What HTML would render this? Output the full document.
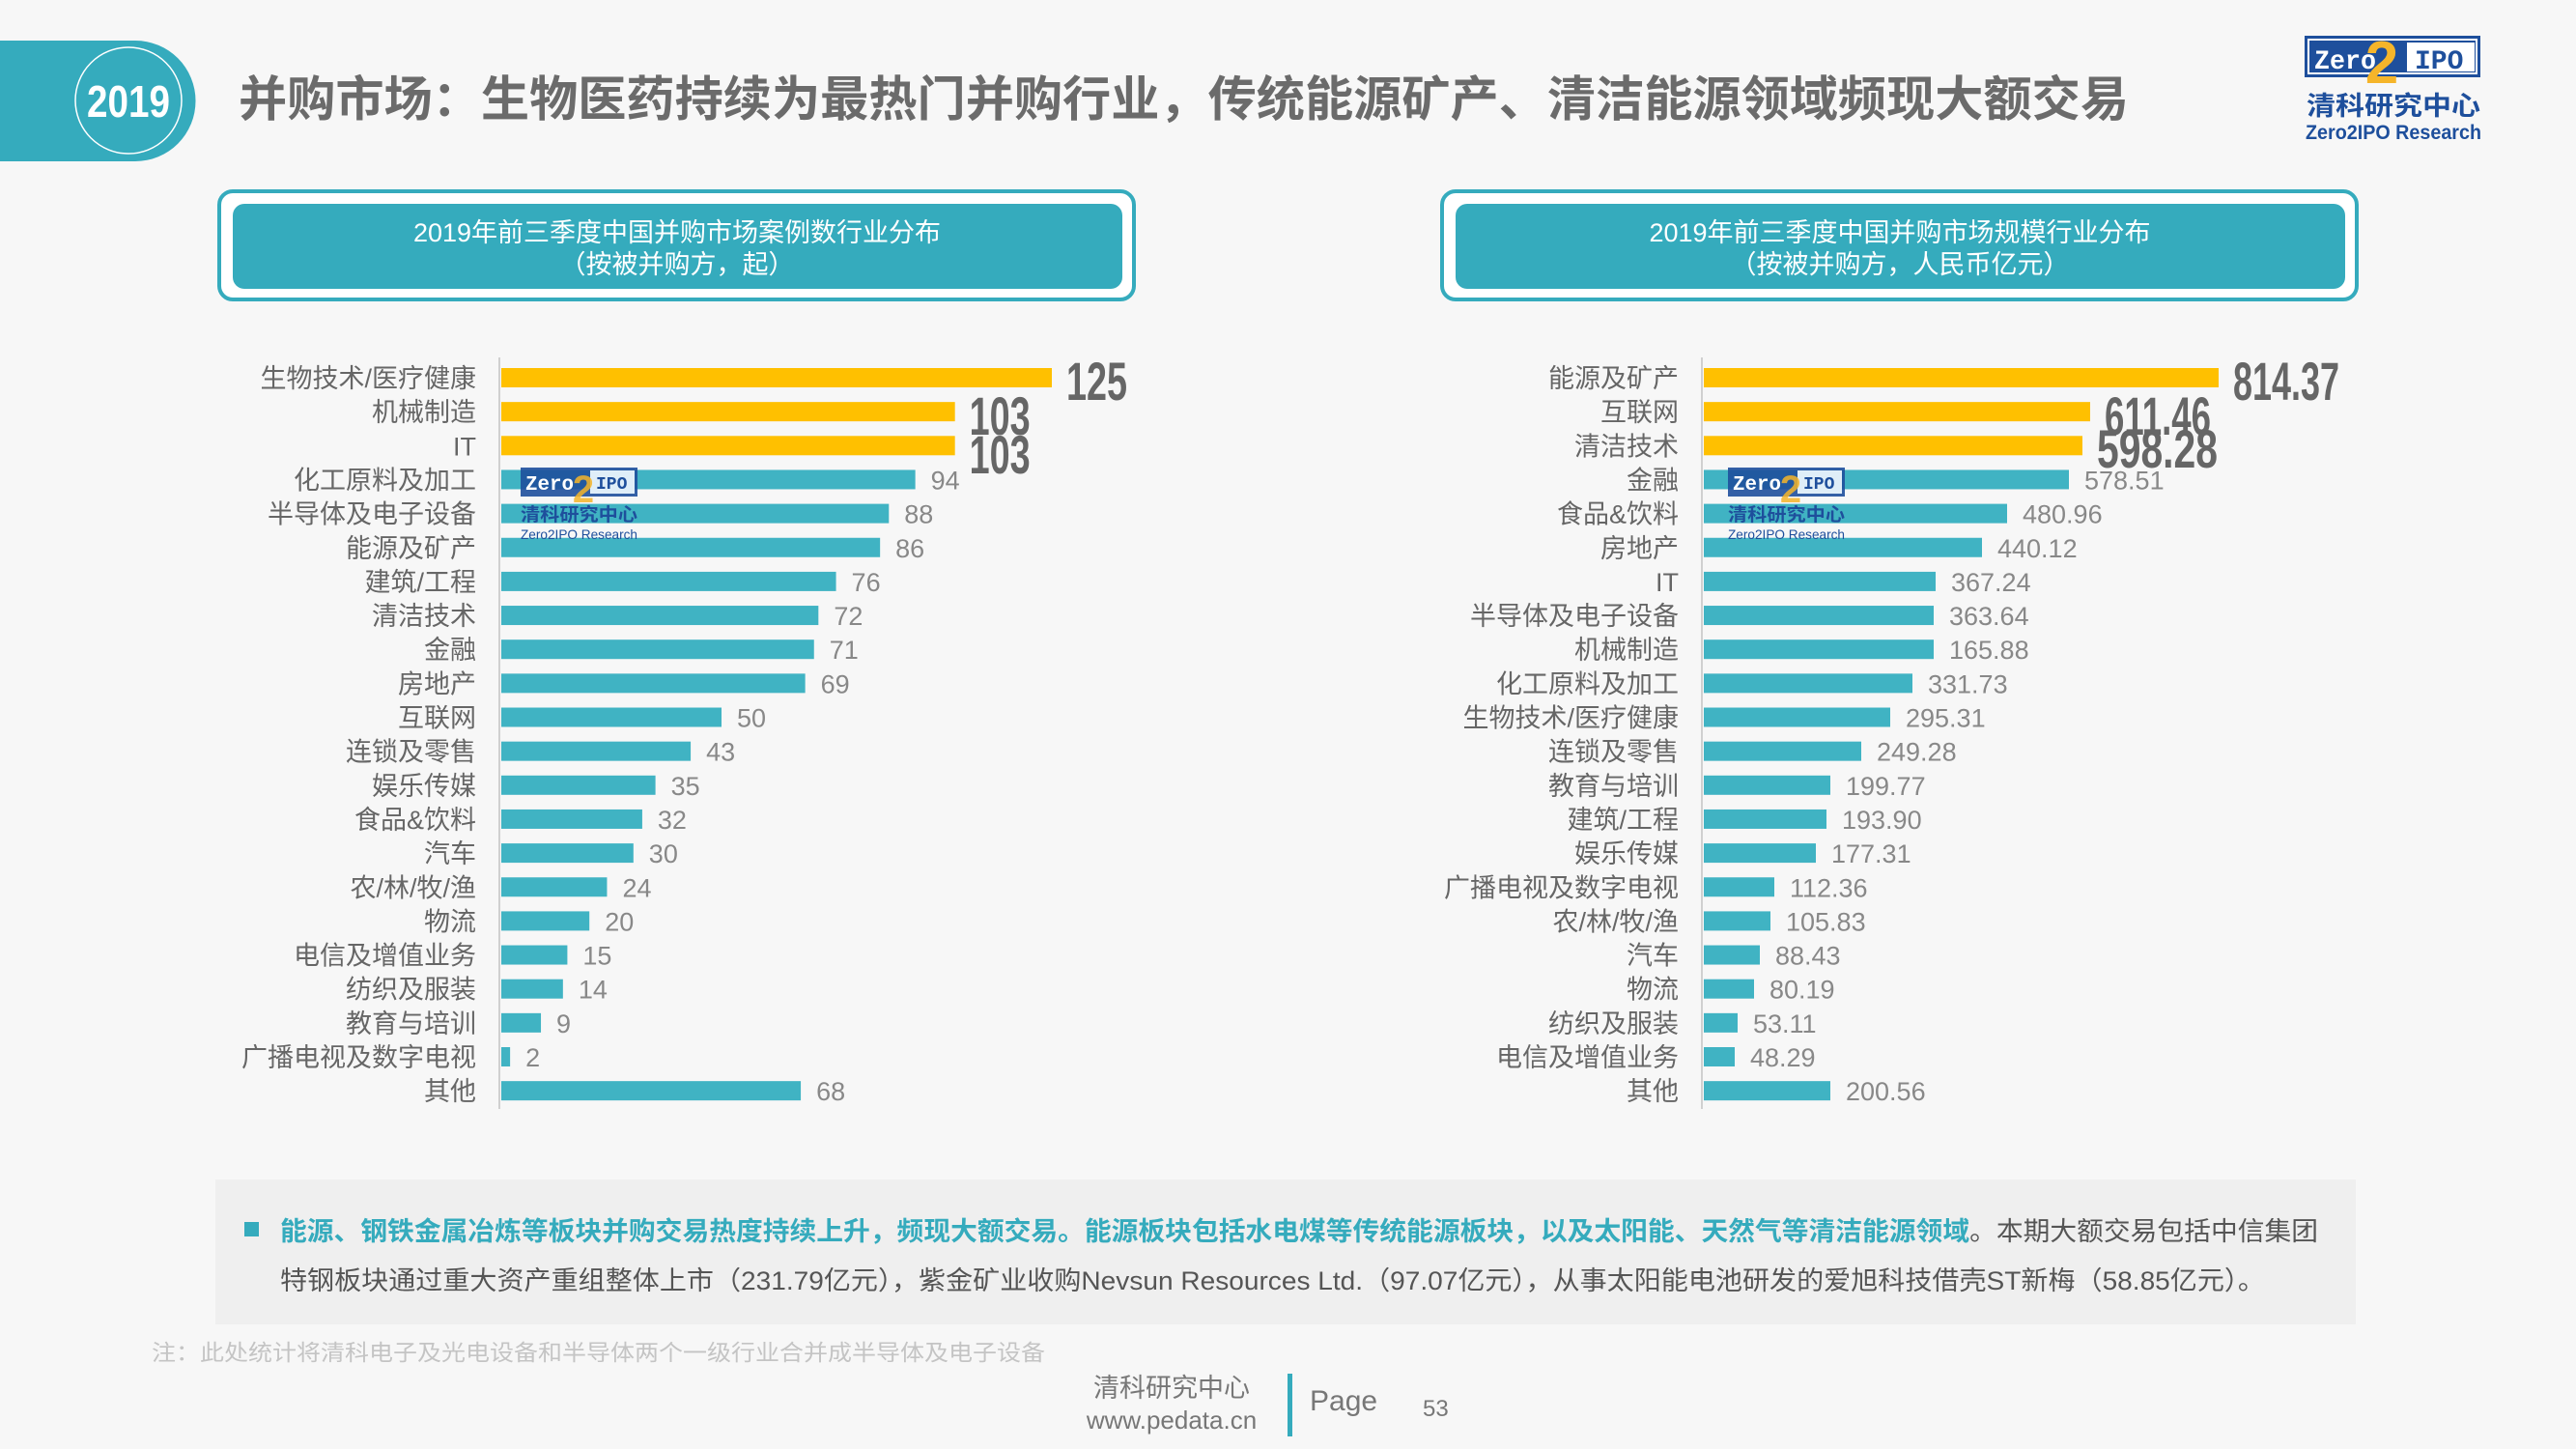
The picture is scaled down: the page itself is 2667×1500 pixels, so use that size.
<!DOCTYPE html>
<html><head><meta charset="utf-8"><style>
html,body{margin:0;padding:0;}
body{width:2667px;height:1500px;background:#f7f7f7;position:relative;overflow:hidden;font-family:"Liberation Sans","Noto Sans CJK SC",sans-serif;}
.abs{position:absolute;}
</style></head><body>
<svg class="abs" style="left:0;top:0" width="2667" height="1500" xmlns="http://www.w3.org/2000/svg" font-family="Liberation Sans, Noto Sans CJK SC, sans-serif">
<path d="M0 42 H140 A62 62 0 0 1 140 167 H0 Z" fill="#35abbd"/>
<circle cx="133" cy="104" r="55" fill="none" stroke="#fff" stroke-width="1.5"/>
<text x="133" y="121" text-anchor="middle" font-size="46" font-weight="bold" fill="#fff" textLength="86" lengthAdjust="spacingAndGlyphs">2019</text>
<text x="247" y="120" font-size="50" font-weight="bold" fill="#6b6b6b" textLength="1957" lengthAdjust="spacingAndGlyphs">并购市场：生物医药持续为最热门并购行业，传统能源矿产、清洁能源领域频现大额交易</text>
<rect x="2386" y="37" width="182" height="43" fill="#1e4f9c"/>
<rect x="2390" y="41" width="174" height="35" fill="none" stroke="#fff" stroke-width="2"/>
<rect x="2492" y="44" width="70" height="30" fill="#fff"/>
<text x="2396" y="71" font-size="28" font-weight="bold" fill="#fff" font-family="Liberation Mono, monospace" textLength="64" lengthAdjust="spacingAndGlyphs">Zero</text>
<text x="2500" y="71" font-size="28" font-weight="bold" fill="#1e4f9c" font-family="Liberation Mono, monospace">IPO</text>
<text x="2466" y="86" font-size="62" font-weight="bold" fill="#f5b52a" text-anchor="middle">2</text>
<text x="2478" y="119" font-size="27" font-weight="bold" fill="#1e4f9c" text-anchor="middle" textLength="180" lengthAdjust="spacingAndGlyphs">清科研究中心</text>
<text x="2478" y="144" font-size="21" font-weight="bold" fill="#1e4f9c" text-anchor="middle" textLength="182" lengthAdjust="spacingAndGlyphs">Zero2IPO Research</text>
<rect x="227" y="198" width="947" height="112" rx="14" fill="#fff" stroke="#35abbd" stroke-width="4"/>
<rect x="241" y="211" width="921" height="88" rx="12" fill="#35abbd"/>
<text x="701" y="250" font-size="27" fill="#fff" text-anchor="middle">2019年前三季度中国并购市场案例数行业分布</text>
<text x="701" y="283" font-size="27" fill="#fff" text-anchor="middle">（按被并购方，起）</text>
<rect x="1493" y="198" width="947" height="112" rx="14" fill="#fff" stroke="#35abbd" stroke-width="4"/>
<rect x="1507" y="211" width="921" height="88" rx="12" fill="#35abbd"/>
<text x="1967" y="250" font-size="27" fill="#fff" text-anchor="middle">2019年前三季度中国并购市场规模行业分布</text>
<text x="1967" y="283" font-size="27" fill="#fff" text-anchor="middle">（按被并购方，人民币亿元）</text>
<g id="charts"></g>
<rect x="223" y="1221" width="2216" height="150" fill="#efefef"/>
<rect x="253" y="1265" width="15" height="15" fill="#35abbd"/>
<text x="290" y="1284" font-size="27" textLength="2110" lengthAdjust="spacingAndGlyphs"><tspan font-weight="bold" fill="#35abbd">能源、钢铁金属冶炼等板块并购交易热度持续上升，频现大额交易。能源板块包括水电煤等传统能源板块，以及太阳能、天然气等清洁能源领域</tspan><tspan fill="#555">。本期大额交易包括中信集团</tspan></text>
<text x="290" y="1335" font-size="27" fill="#555" textLength="2055" lengthAdjust="spacingAndGlyphs">特钢板块通过重大资产重组整体上市（231.79亿元），紫金矿业收购Nevsun Resources Ltd.（97.07亿元），从事太阳能电池研发的爱旭科技借壳ST新梅（58.85亿元）。</text>
<text x="157" y="1408" font-size="23" fill="#c4c4c4" textLength="925" lengthAdjust="spacingAndGlyphs">注：此处统计将清科电子及光电设备和半导体两个一级行业合并成半导体及电子设备</text>
<text x="1213" y="1446" font-size="27" fill="#777" text-anchor="middle">清科研究中心</text>
<text x="1213" y="1479" font-size="26" fill="#777" text-anchor="middle">www.pedata.cn</text>
<rect x="1333" y="1422" width="5" height="65" fill="#35abbd"/>
<text x="1356" y="1460" font-size="30" fill="#777">Page</text>
<text x="1473" y="1466" font-size="24" fill="#777">53</text>
</svg>
<script>
const L=[["生物技术/医疗健康",125],["机械制造",103],["IT",103],["化工原料及加工",94],["半导体及电子设备",88],["能源及矿产",86],["建筑/工程",76],["清洁技术",72],["金融",71],["房地产",69],["互联网",50],["连锁及零售",43],["娱乐传媒",35],["食品&饮料",32],["汽车",30],["农/林/牧/渔",24],["物流",20],["电信及增值业务",15],["纺织及服装",14],["教育与培训",9],["广播电视及数字电视",2],["其他",68]];
const R=[["能源及矿产","814.37"],["互联网","611.46"],["清洁技术","598.28"],["金融","578.51"],["食品&饮料","480.96"],["房地产","440.12"],["IT","367.24"],["半导体及电子设备","363.64"],["机械制造","165.88"],["化工原料及加工","331.73"],["生物技术/医疗健康","295.31"],["连锁及零售","249.28"],["教育与培训","199.77"],["建筑/工程","193.90"],["娱乐传媒","177.31"],["广播电视及数字电视","112.36"],["农/林/牧/渔","105.83"],["汽车","88.43"],["物流","80.19"],["纺织及服装","53.11"],["电信及增值业务","48.29"],["其他","200.56"]];
const RW=[533,400,392,378,314,288,240,238,238,216,193,163,131,127,116,73,69,58,52,35,32,131];
let s='';
function chart(data,ax,lx,scale,bigY,bigW,widths){
  s+=`<line x1="${ax}" y1="370" x2="${ax}" y2="1148" stroke="#d0d0d0" stroke-width="2"/>`;
  data.forEach((d,i)=>{
    const cy=391+i*35.15;
    const w=widths?widths[i]:d[1]*scale;
    const col=i<3?'#ffc000':'#40b3c3';
    s+=`<rect x="${ax+2}" y="${cy-10}" width="${w}" height="20" fill="${col}"/>`;
    s+=`<text x="${lx}" y="${cy+10}" font-size="27" fill="#666" text-anchor="end">${d[0]}</text>`;
    if(i<3){
      s+=`<text x="${ax+2+w+15}" y="${bigY[i]+21}" font-size="56" font-weight="bold" fill="#666" textLength="${bigW[i]}" lengthAdjust="spacingAndGlyphs">${d[1]}</text>`;
    } else {
      s+=`<text x="${ax+2+w+16}" y="${cy+10}" font-size="27" fill="#888">${d[1]}</text>`;
    }
  });
}
chart(L,517,493,4.56,[393,429,469],[63,63,63]);
chart(R,1762,1738,0,[393,429,463],[110,110,125],RW);
function wm(x){
  s+=`<rect x="${x}" y="484" width="121" height="30" fill="#1e4f9c" opacity="0.9"/><rect x="${x+72}" y="487" width="46" height="24" fill="#dfeef8"/>`;
  s+=`<text x="${x+5}" y="507" font-size="21" font-weight="bold" fill="#fff" font-family="Liberation Mono, monospace" textLength="50" lengthAdjust="spacingAndGlyphs">Zero</text>`;
  s+=`<text x="${x+78}" y="506" font-size="18" font-weight="bold" fill="#1e4f9c" font-family="Liberation Mono, monospace">IPO</text>`;
  s+=`<text x="${x+65}" y="520" font-size="40" font-weight="bold" fill="#f5b52a" text-anchor="middle" opacity="0.85">2</text>`;
  s+=`<text x="${x}" y="539" font-size="19" font-weight="bold" fill="#1e4f9c" textLength="121" lengthAdjust="spacingAndGlyphs">清科研究中心</text>`;
  s+=`<text x="${x}" y="558" font-size="14" fill="#1e4f9c" textLength="121" lengthAdjust="spacingAndGlyphs">Zero2IPO Research</text>`;
}
wm(539);wm(1789);
document.getElementById('charts').innerHTML=s;
</script>
</body></html>
